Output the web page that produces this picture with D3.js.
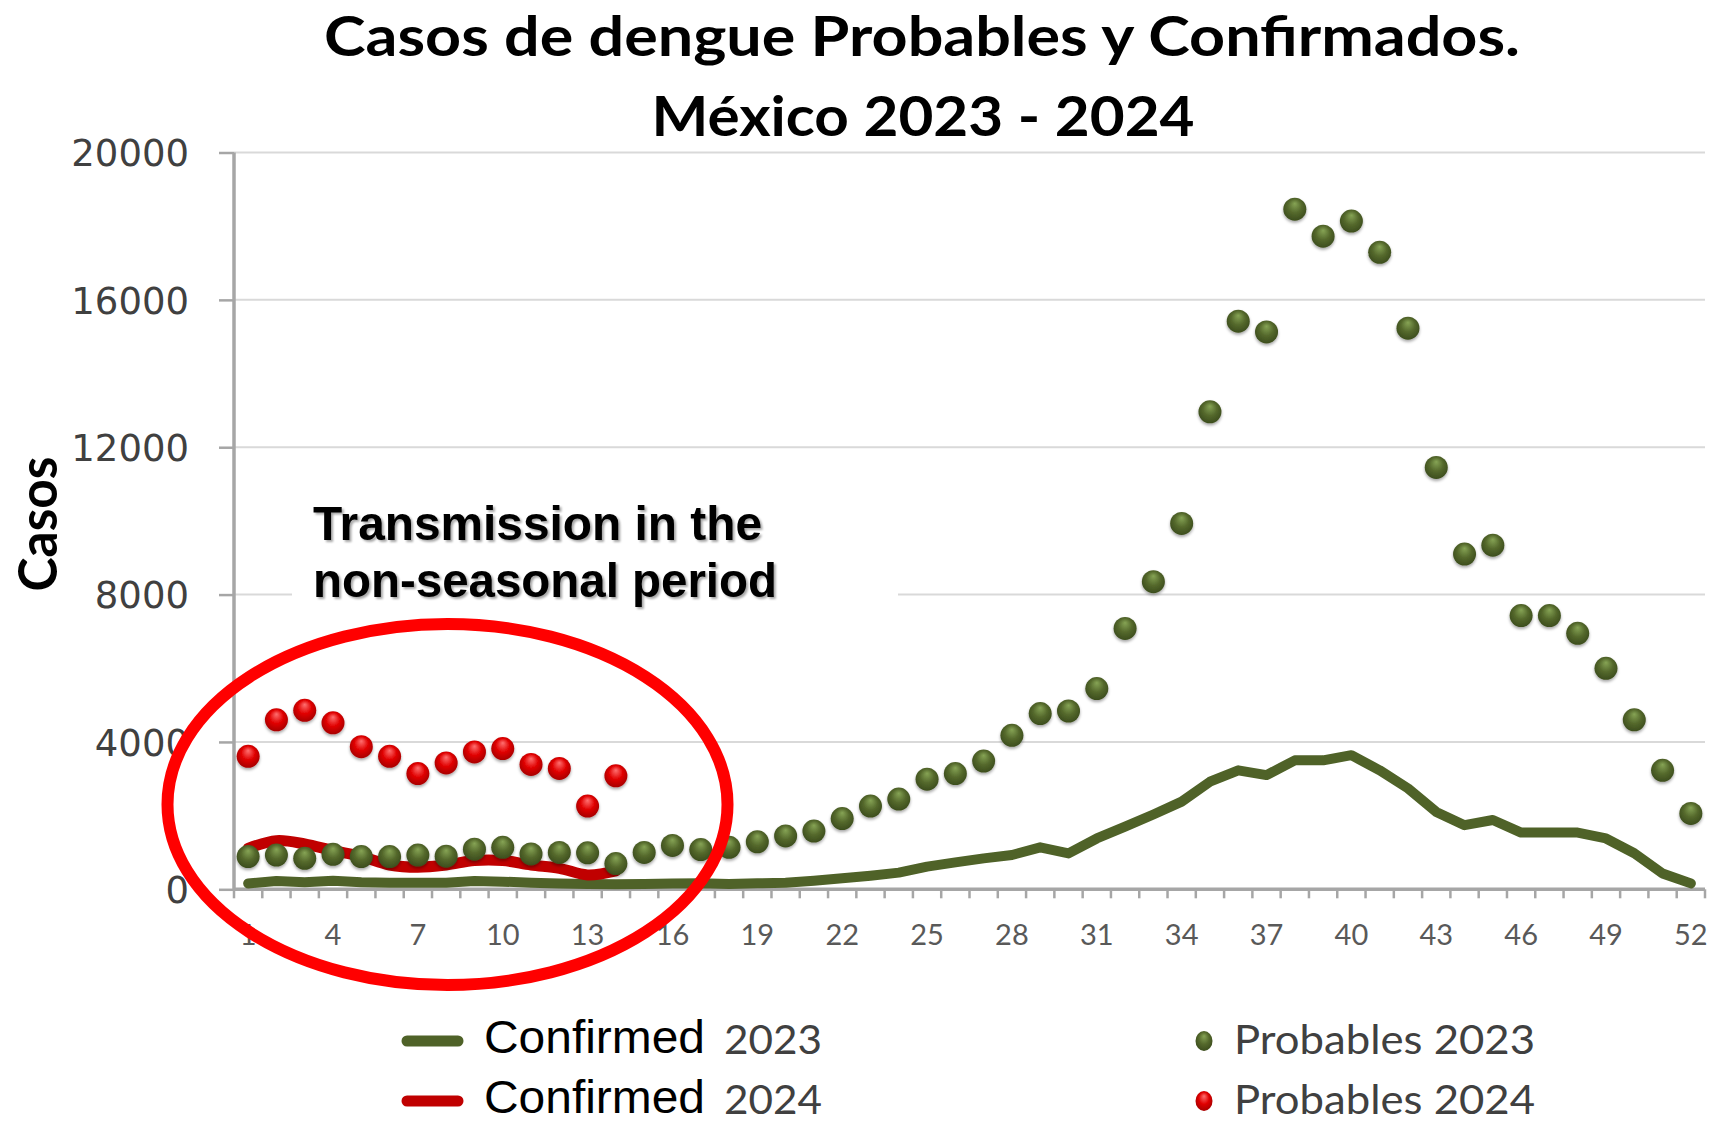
<!DOCTYPE html>
<html>
<head>
<meta charset="utf-8">
<script src="https://cdn.jsdelivr.net/npm/d3@7"></script>
<style>
  html, body { margin: 0; padding: 0; background: #fff; }
  svg { display: block; }
</style>
</head>
<body>
<svg id="chart" width="1709" height="1125"></svg>
<script>
// ---------------- DATA ----------------
const weeks = [1,2,3,4,5,6,7,8,9,10,11,12,13,14,15,16,17,18,19,20,21,22,23,24,25,26,
               27,28,29,30,31,32,33,34,35,36,37,38,39,40,41,42,43,44,45,46,47,48,49,50,51,52];
const weekTickLabels = [1,4,7,10,13,16,19,22,25,28,31,34,37,40,43,46,49,52];
const yTicks = [0,4000,8000,12000,16000,20000];

const probables2023 = [890, 930, 840, 950, 890, 890, 930, 900, 1090, 1140, 960, 1000, 990, 700, 1000, 1190,
                       1080, 1140, 1290, 1450, 1580, 1920, 2260, 2450, 2990, 3140, 3480, 4180, 4770, 4840,
                       5450, 7080, 8350, 9930, 12960, 15420, 15130, 18460, 17730, 18140, 17290, 15230, 11450,
                       9100, 9340, 7430, 7430, 6950, 6000, 4600, 3230, 2060];
const probables2024 = [3610, 4600, 4860, 4520, 3870, 3610, 3140, 3430, 3730, 3820, 3390, 3280, 2260, 3080];
const confirmed2023 = [160, 225, 190, 235, 190, 180, 180, 180, 225, 208, 180, 160, 145, 135, 145, 160,
                       163, 145, 163, 180, 235, 298, 370, 452, 614, 731, 840, 930, 1138, 975,
                       1380, 1700, 2030, 2380, 2920, 3230, 3100, 3500, 3500, 3640, 3230, 2740, 2100,
                       1740, 1880, 1540, 1540, 1540, 1380, 980, 430, 160];
const confirmed2024 = [1110, 1320, 1230, 1050, 890, 660, 600, 660, 780, 780, 660, 570, 390, 500];

const titleLines = ["Casos de dengue Probables y Confirmados.", "México 2023 - 2024"];
const yTitle = "Casos";
const annotationLines = ["Transmission in the", "non-seasonal period"];
const legendItems = [
  {kind: "line", color: "green", label1: "Confirmed", label2: "2023"},
  {kind: "line", color: "red",   label1: "Confirmed", label2: "2024"},
  {kind: "dot",  color: "green", label: "Probables 2023"},
  {kind: "dot",  color: "red",   label: "Probables 2024"}
];

// ---------------- STYLE ----------------
const GREEN = "#4f6228", RED = "#c00000";
const svg = d3.select("#chart");

const pLeft = 234, pRight = 1705, pTop = 152.5, pBottom = 889.3;
const x = d3.scaleBand().domain(weeks).range([pLeft, pRight]);
const y = d3.scaleLinear().domain([0, 20000]).range([pBottom, pTop]);
const cx = w => x(w) + x.bandwidth() / 2;

// defs: gradients & filters
const defs = svg.append("defs");
function ballGrad(id, c0, c1, c2) {
  const g = defs.append("radialGradient").attr("id", id)
    .attr("cx", "50%").attr("cy", "45%").attr("r", "55%").attr("fx", "50%").attr("fy", "25%");
  g.append("stop").attr("offset", "0%").attr("stop-color", c0);
  g.append("stop").attr("offset", "55%").attr("stop-color", c1);
  g.append("stop").attr("offset", "100%").attr("stop-color", c2);
}
ballGrad("gball", "#86a455", "#55692c", "#3c4d1d");
ballGrad("rball", "#ff7070", "#e00000", "#a80000");
const sh = defs.append("filter").attr("id", "shadow").attr("x", "-30%").attr("y", "-30%").attr("width", "160%").attr("height", "170%");
sh.append("feDropShadow").attr("dx", 0).attr("dy", 2).attr("stdDeviation", 1.5).attr("flood-color", "#000").attr("flood-opacity", 0.35);
const tsh = defs.append("filter").attr("id", "tshadow");
tsh.append("feDropShadow").attr("dx", 2).attr("dy", 2).attr("stdDeviation", 1).attr("flood-color", "#000").attr("flood-opacity", 0.35);

// ---------------- TITLE ----------------
svg.append("text").attr("x", 922).attr("y", 56).attr("text-anchor", "middle")
  .attr("font-family", "Lato, 'Open Sans', sans-serif").attr("font-weight", 700).attr("font-size", 56)
  .attr("textLength", 1196).attr("lengthAdjust", "spacingAndGlyphs")
  .text(titleLines[0]);
svg.append("text").attr("x", 923).attr("y", 136).attr("text-anchor", "middle")
  .attr("font-family", "Lato, 'Open Sans', sans-serif").attr("font-weight", 700).attr("font-size", 56)
  .attr("textLength", 543).attr("lengthAdjust", "spacingAndGlyphs")
  .text(titleLines[1]);

// ---------------- GRID ----------------
svg.append("g").selectAll("line").data(yTicks.filter(d => d > 0)).join("line")
  .attr("x1", pLeft).attr("x2", pRight).attr("y1", d => y(d)).attr("y2", d => y(d))
  .attr("stroke", "#d9d9d9").attr("stroke-width", 2);

// ---------------- AXES ----------------
const yAxis = d3.axisLeft(y).tickValues(yTicks).tickSize(15).tickPadding(30).tickFormat(d3.format("d"));
const gy = svg.append("g").attr("transform", `translate(${pLeft},0)`).call(yAxis);
gy.select(".domain").attr("stroke", "#a6a6a6").attr("stroke-width", 3.5).attr("d", `M0,${pTop}V${pBottom}`);
gy.selectAll(".tick line").attr("stroke", "#a6a6a6").attr("stroke-width", 2.5);
gy.selectAll(".tick text").attr("font-family", "'DejaVu Sans', Verdana, sans-serif").attr("font-size", 37)
  .attr("fill", "#404040").attr("dy", "0.36em");

const xAxis = d3.axisBottom(x).tickValues(weekTickLabels).tickSize(0).tickPadding(0);
const gx = svg.append("g").attr("transform", `translate(0,${pBottom})`).call(xAxis);
gx.select(".domain").attr("stroke", "#a6a6a6").attr("stroke-width", 3.5).attr("d", `M${pLeft},0H${pRight}`);
gx.selectAll(".tick text").attr("font-family", "Lato, 'Open Sans', sans-serif").attr("font-size", 29)
  .attr("fill", "#595959").attr("y", 56).attr("dy", 0);
// minor tick marks at category boundaries
const bounds = weeks.map(w => x(w)).concat([x(weeks[weeks.length - 1]) + x.step()]);
svg.append("g").selectAll("line").data(bounds).join("line")
  .attr("x1", d => d).attr("x2", d => d).attr("y1", pBottom).attr("y2", pBottom + 9)
  .attr("stroke", "#a6a6a6").attr("stroke-width", 2.5);

// Y title
svg.append("text").attr("transform", "translate(57,524) rotate(-90)").attr("text-anchor", "middle")
  .attr("font-family", "Lato, 'Open Sans', sans-serif").attr("font-weight", 700).attr("font-size", 54)
  .attr("textLength", 135).attr("lengthAdjust", "spacingAndGlyphs")
  .text(yTitle);

// ---------------- LINES ----------------
const line = d3.line().x((d, i) => cx(weeks[i])).y(d => y(d));
svg.append("path").datum(confirmed2023).attr("d", line.curve(d3.curveLinear))
  .attr("fill", "none").attr("stroke", GREEN).attr("stroke-width", 10)
  .attr("stroke-linejoin", "round").attr("stroke-linecap", "round");
svg.append("path").datum(confirmed2024).attr("d", line.curve(d3.curveCatmullRom.alpha(0.5)))
  .attr("fill", "none").attr("stroke", RED).attr("stroke-width", 11)
  .attr("stroke-linejoin", "round").attr("stroke-linecap", "round");

// ---------------- DOTS ----------------
svg.append("g").selectAll("circle").data(probables2023).join("circle")
  .attr("cx", (d, i) => cx(weeks[i])).attr("cy", d => y(d)).attr("r", 11.5)
  .attr("fill", "url(#gball)").attr("filter", "url(#shadow)");
svg.append("g").selectAll("circle").data(probables2024).join("circle")
  .attr("cx", (d, i) => cx(weeks[i])).attr("cy", d => y(d)).attr("r", 11.5)
  .attr("fill", "url(#rball)").attr("filter", "url(#shadow)");

// ---------------- ANNOTATION ----------------
svg.append("rect").attr("x", 292).attr("y", 478).attr("width", 606).attr("height", 132).attr("fill", "#fff");
annotationLines.forEach((t, i) => {
  svg.append("text").attr("x", 313).attr("y", 540 + i * 57)
    .attr("font-family", "'Liberation Sans', Arial, sans-serif").attr("font-weight", 700).attr("font-size", 48)
    .attr("textLength", i === 0 ? 449 : 464).attr("lengthAdjust", "spacingAndGlyphs")
    .attr("filter", "url(#tshadow)")
    .text(t);
});

// red ellipse
svg.append("ellipse").attr("cx", 447.5).attr("cy", 804.5).attr("rx", 280).attr("ry", 180.5)
  .attr("fill", "none").attr("stroke", "#ff0000").attr("stroke-width", 12);

// ---------------- LEGEND ----------------
const rowY = [1041, 1101], baseY = [1053, 1113];
legendItems.forEach((it, i) => {
  const r = i % 2;
  const col = it.color === "green" ? GREEN : RED;
  if (it.kind === "line") {
    svg.append("line").attr("x1", 407).attr("x2", 458).attr("y1", rowY[r]).attr("y2", rowY[r])
      .attr("stroke", col).attr("stroke-width", 11).attr("stroke-linecap", "round");
    svg.append("text").attr("x", 484).attr("y", baseY[r])
      .attr("font-family", "'Liberation Sans', Arial, sans-serif").attr("font-size", 47)
      .attr("textLength", 221).attr("lengthAdjust", "spacingAndGlyphs").attr("fill", "#000")
      .text(it.label1);
    svg.append("text").attr("x", 724).attr("y", baseY[r] + 1)
      .attr("font-family", "Lato, 'Open Sans', sans-serif").attr("font-size", 40)
      .attr("textLength", 98).attr("lengthAdjust", "spacingAndGlyphs").attr("fill", "#404040")
      .text(it.label2);
  } else {
    svg.append("ellipse").attr("cx", 1204).attr("cy", rowY[r]).attr("rx", 8.5).attr("ry", 10)
      .attr("fill", it.color === "green" ? "url(#gball)" : "url(#rball)");
    svg.append("text").attr("x", 1234).attr("y", baseY[r] + 1)
      .attr("font-family", "Lato, 'Open Sans', sans-serif").attr("font-size", 40)
      .attr("textLength", 301).attr("lengthAdjust", "spacingAndGlyphs").attr("fill", "#404040")
      .text(it.label);
  }
});
</script>
</body>
</html>
